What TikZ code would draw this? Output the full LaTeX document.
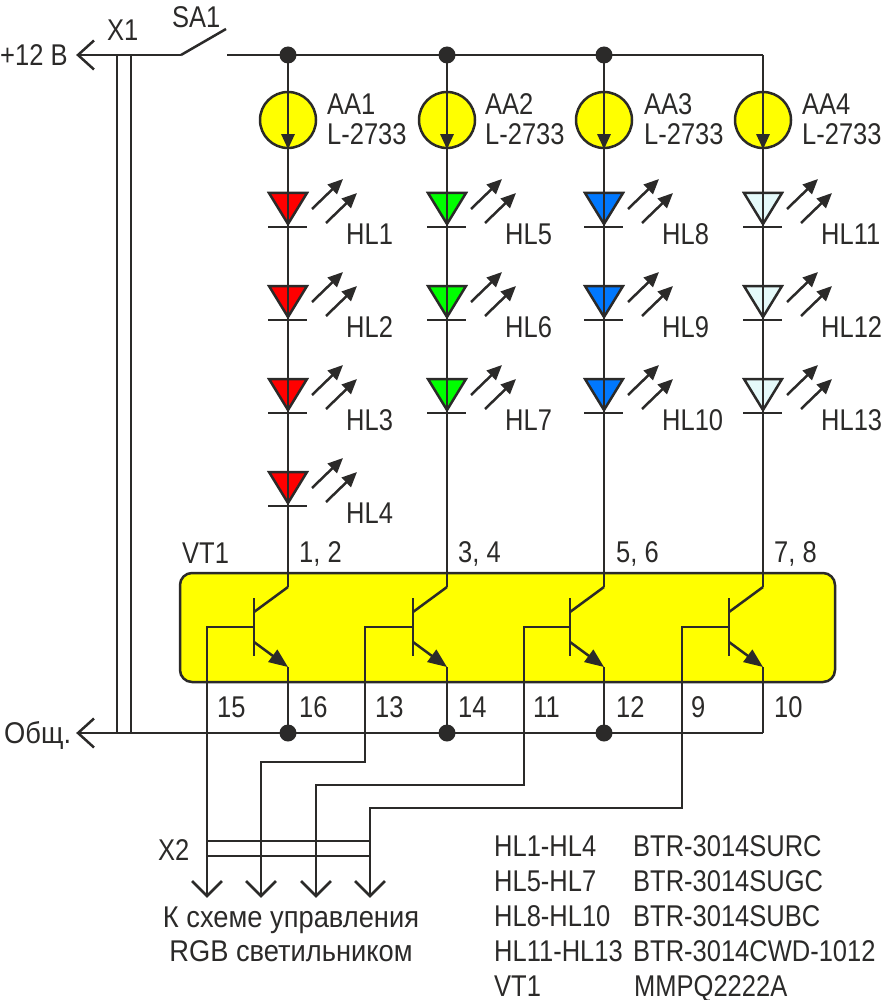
\documentclass[tikz,border=0pt]{standalone}
\usepackage{fontspec}
\setmainfont[FakeStretch=0.85]{Liberation Sans}
\newfontfamily\widefont[FakeStretch=0.91]{Liberation Sans}
\usetikzlibrary{arrows.meta}
\definecolor{ink}{HTML}{2B2A29}
\definecolor{body}{HTML}{FFFF00}
\definecolor{ledred}{HTML}{FF0000}
\definecolor{ledgreen}{HTML}{00FF00}
\definecolor{ledblue}{HTML}{0078FF}
\definecolor{ledwhite}{HTML}{E5FAFA}
\tikzset{
  wire/.style={draw=ink,line width=2.5pt},
  txt/.style={text=ink,inner sep=0pt,anchor=base west,yshift=-10.5pt,font=\fontsize{30}{30}\selectfont},
  dot/.style={circle,fill=ink,inner sep=0pt,minimum size=17pt},
  lamp/.style={circle,draw=ink,fill=body,line width=2.5pt,inner sep=0pt,minimum size=56pt},
  solid tip/.style={-{Triangle[length=15pt,width=13pt]}},
  big tip/.style={-{Triangle[length=19pt,width=15pt]}}
}
% one LED: name, x, y of the top edge, colour, label
\newcommand{\led}[5]{
  \draw[wire,fill=#4,line join=miter] (#2-19,#3+1) -- (#2+19,#3+1) -- (#2,#3+32) -- cycle;
  \draw[wire] (#2-20,#3+35) -- (#2+19,#3+35);
  \draw[wire,solid tip] (#2+24,#3+17) -- (#2+55,#3-13);
  \draw[wire,solid tip] (#2+38,#3+31) -- (#2+69,#3+1);
  \node[txt] (#1) at (#2+58,#3+42) {#5};
}
% one transistor: name, x of collector and emitter
\newcommand{\vt}[2]{
  \coordinate (#1c) at (#2,587);
  \coordinate (#1e) at (#2,667);
  \coordinate (#1b) at (#2-34,627);
  \draw[wire] (#2-34,598) -- (#2-34,656);
  \draw[wire] (#2-34,612) -- (#1c);
  \draw[wire,big tip] (#2-34,642) -- (#1e);
}
\begin{document}
\begin{tikzpicture}[x=1pt,y=-1pt]
\useasboundingbox (0,0) rectangle (881,1000);

\draw[draw=ink,fill=body,line width=2.5pt,rounded corners=12pt] (180,573) rectangle (835,682);

\node[lamp] (aaa) at (288,120) {};
\node[lamp] (aab) at (447,120) {};
\node[lamp] (aac) at (604,120) {};
\node[lamp] (aad) at (763,120) {};

\led{hla}{288}{192}{ledred}{HL1}
\led{hlb}{288}{285}{ledred}{HL2}
\led{hlc}{288}{378}{ledred}{HL3}
\led{hld}{288}{471}{ledred}{HL4}
\led{hle}{447}{192}{ledgreen}{HL5}
\led{hlf}{447}{285}{ledgreen}{HL6}
\led{hlg}{447}{378}{ledgreen}{HL7}
\led{hlh}{604}{192}{ledblue}{HL8}
\led{hli}{604}{285}{ledblue}{HL9}
\led{hlj}{604}{378}{ledblue}{HL10}
\led{hlk}{763}{192}{ledwhite}{HL11}
\led{hll}{763}{285}{ledwhite}{HL12}
\led{hlm}{763}{378}{ledwhite}{HL13}

\vt{vta}{288}
\vt{vtb}{447}
\vt{vtc}{604}
\vt{vtd}{763}

% supply
\coordinate (plus) at (78,55);
\coordinate (swa) at (181,55);
\coordinate (swb) at (226,29);
\coordinate (swc) at (227,55);
\coordinate (topd) at (763,55);
\node[dot] (topa) at (288,55) {};
\node[dot] (topb) at (447,55) {};
\node[dot] (topc) at (604,55) {};
\draw[wire] (swa) -- (plus);
\draw[wire] (plus) ++(16,-14.5) -- (plus) -- ++(16,14.5);
\draw[wire] (swa) -- (swb);
\draw[wire] (swc) -- (topd);

% common
\coordinate (com) at (78,733);
\coordinate (botd) at (763,733);
\node[dot] (bota) at (288,733) {};
\node[dot] (botb) at (447,733) {};
\node[dot] (botc) at (604,733) {};
\draw[wire] (botd) -- (com);
\draw[wire] (com) ++(16,-14.5) -- (com) -- ++(16,14.5);

% X1
\draw[wire] (117,55) -- (117,733);
\draw[wire] (131,55) -- (131,733);

% columns
\draw[wire,solid tip] (topa.center) -- (aaa.south);
\draw[wire,solid tip] (topb.center) -- (aab.south);
\draw[wire,solid tip] (topc.center) -- (aac.south);
\draw[wire,solid tip] (topd) -- (aad.south);
\draw[wire] (aaa.south) -- (vtac);
\draw[wire] (aab.south) -- (vtbc);
\draw[wire] (aac.south) -- (vtcc);
\draw[wire] (aad.south) -- (vtdc);
\draw[wire] (vtae) -- (bota.center);
\draw[wire] (vtbe) -- (botb.center);
\draw[wire] (vtce) -- (botc.center);
\draw[wire] (vtde) -- (botd);

% control lines
\coordinate (outa) at (207,896);
\coordinate (outb) at (261,896);
\coordinate (outc) at (316,896);
\coordinate (outd) at (370,896);
\draw[wire] (vtab) -| (outa);
\draw[wire] (vtbb) -| (365,762) -| (outb);
\draw[wire] (vtcb) -| (524,785) -| (outc);
\draw[wire] (vtdb) -| (682,808) -| (outd);
\draw[wire] (outa) ++(-15,-15) -- (outa) -- ++(15,-15);
\draw[wire] (outb) ++(-15,-15) -- (outb) -- ++(15,-15);
\draw[wire] (outc) ++(-15,-15) -- (outc) -- ++(15,-15);
\draw[wire] (outd) ++(-15,-15) -- (outd) -- ++(15,-15);

% X2
\draw[wire] (207,841) -- (370,841);
\draw[wire] (207,856) -- (370,856);

\node[txt] (vplus) at (0,55) {+12 В};
\node[txt] (vcom) at (4,733) {\widefont Общ.};
\node[txt] (xa) at (107,30) {X1};
\node[txt] (sa) at (172,17) {SA1};
\node[txt] (xb) at (158,850) {X2};
\node[txt] (vt) at (182,553) {VT1};

\node[txt] (aata) at (327,104) {AA1};
\node[txt] (aatb) at (327,134) {L-2733};
\node[txt] (abta) at (485,104) {AA2};
\node[txt] (abtb) at (485,134) {L-2733};
\node[txt] (acta) at (644,104) {AA3};
\node[txt] (actb) at (644,134) {L-2733};
\node[txt] (adta) at (802,104) {AA4};
\node[txt] (adtb) at (802,134) {L-2733};

\node[txt] (pa) at (299,552) {1, 2};
\node[txt] (pb) at (458,552) {3, 4};
\node[txt] (pc) at (616,552) {5, 6};
\node[txt] (pd) at (774,552) {7, 8};
\node[txt] (pe) at (217,707) {15};
\node[txt] (pf) at (299,707) {16};
\node[txt] (pg) at (375,707) {13};
\node[txt] (ph) at (458,707) {14};
\node[txt] (pi) at (533,707) {11};
\node[txt] (pj) at (616,707) {12};
\node[txt] (pk) at (691,707) {9};
\node[txt] (pl) at (774,707) {10};

\node[txt,anchor=base] (ctla) at (291,917) {\widefont К схеме управления};
\node[txt,anchor=base] (ctlb) at (291,951) {\widefont RGB светильником};

\node[txt] (ta) at (494,846) {HL1-HL4};
\node[txt] (tb) at (633,846) {BTR-3014SURC};
\node[txt] (tc) at (494,881) {HL5-HL7};
\node[txt] (td) at (633,881) {BTR-3014SUGC};
\node[txt] (te) at (494,916) {HL8-HL10};
\node[txt] (tf) at (633,916) {BTR-3014SUBC};
\node[txt] (tg) at (494,951) {HL11-HL13};
\node[txt] (th) at (633,951) {BTR-3014CWD-1012};
\node[txt] (ti) at (494,986) {VT1};
\node[txt] (tj) at (634,986) {MMPQ2222A};

\end{tikzpicture}
\end{document}
